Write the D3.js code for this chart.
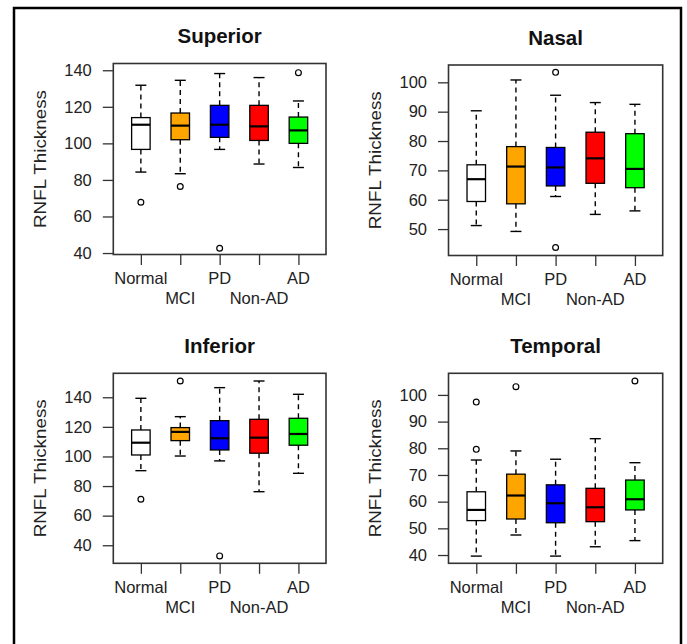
<!DOCTYPE html>
<html>
<head>
<meta charset="utf-8">
<script src="https://cdn.jsdelivr.net/npm/d3@7"></script>
<style>
html,body{margin:0;padding:0;background:#fff;}
svg{display:block;}
text{font-family:"Liberation Sans",Arial,Helvetica,sans-serif;}
</style>
</head>
<body>
<svg id="chart" width="687" height="644"></svg>
<script>
// ---- data ----
const groups = ["Normal", "MCI", "PD", "Non-AD", "AD"];
const groupColors = ["#ffffff", "#ffa500", "#0000ff", "#ff0000", "#00ff00"];

// [lower whisker, Q1, median, Q3, upper whisker]
const superiorStats = [
  [84.3, 96.7, 110.2, 114.1, 131.8],
  [83.4, 102.0, 109.7, 116.6, 134.5],
  [96.7, 103.3, 110.2, 120.8, 138.2],
  [88.7, 101.6, 109.3, 120.8, 136.0],
  [86.8, 100.0, 107.1, 114.4, 123.2]
];
const superiorOutliers = [[67.8], [76.4], [42.6], [], [138.7]];
const superiorTicks = [40, 60, 80, 100, 120, 140];

const nasalStats = [
  [51.2, 59.4, 67.0, 71.9, 90.3],
  [49.2, 58.6, 71.3, 78.1, 100.8],
  [61.1, 64.7, 71.0, 77.8, 95.6],
  [55.0, 65.6, 74.1, 83.0, 93.1],
  [56.2, 64.1, 70.5, 82.5, 92.5]
];
const nasalOutliers = [[], [], [103.4, 43.7], [], []];
const nasalTicks = [50, 60, 70, 80, 90, 100];

const inferiorStats = [
  [90.4, 101.0, 109.3, 117.9, 139.3],
  [100.3, 110.7, 116.6, 119.5, 126.9],
  [97.0, 104.4, 112.3, 124.2, 146.5],
  [76.2, 102.2, 112.7, 125.1, 151.0],
  [88.6, 107.6, 115.2, 125.8, 142.0]
];
const inferiorOutliers = [[71.1], [151.0], [32.8], [], []];
const inferiorTicks = [40, 60, 80, 100, 120, 140];

const temporalStats = [
  [39.6, 52.9, 56.9, 63.7, 75.6],
  [47.5, 53.5, 62.3, 70.3, 79.0],
  [39.6, 52.1, 59.4, 66.3, 75.9],
  [43.1, 52.5, 57.9, 65.0, 83.6],
  [45.4, 56.9, 60.9, 68.1, 74.6]
];
const temporalOutliers = [[97.3, 79.6], [103.1], [], [], [105.2]];
const temporalTicks = [40, 50, 60, 70, 80, 90, 100];

const yLabel = "RNFL Thickness";

// ---- layout ----
const panels = [
  {title: "Superior", stats: superiorStats, outliers: superiorOutliers, ticks: superiorTicks,
   domain: [39.2, 143.7], x0: 113.3, x1: 326, y0: 63.5, y1: 254.5},
  {title: "Nasal", stats: nasalStats, outliers: nasalOutliers, ticks: nasalTicks,
   domain: [41.0, 105.9], x0: 448.5, x1: 662.7, y0: 65, y1: 255.5},
  {title: "Inferior", stats: inferiorStats, outliers: inferiorOutliers, ticks: inferiorTicks,
   domain: [27.8, 156.2], x0: 113.3, x1: 326, y0: 373.3, y1: 563.3},
  {title: "Temporal", stats: temporalStats, outliers: temporalOutliers, ticks: temporalTicks,
   domain: [36.9, 108.1], x0: 448.5, x1: 662.7, y0: 373.3, y1: 563.3}
];

const svg = d3.select("#chart");

// outer frame (open at bottom)
svg.append("path")
  .attr("d", "M14,644 L14,8 L681,8 L681,644")
  .attr("fill", "none").attr("stroke", "#000").attr("stroke-width", 2.5);

const textColor = "#222";
const boxW = 18.5, capW = 11;

panels.forEach(p => {
  const g = svg.append("g");
  const x = d3.scaleLinear().domain([0.3, 5.7]).range([p.x0, p.x1]);
  const y = d3.scaleLinear().domain(p.domain).range([p.y1, p.y0]);

  // y axis
  const yAxis = d3.axisLeft(y).tickValues(p.ticks).tickSize(10.5).tickPadding(11).tickFormat(d3.format("d"));
  const ya = g.append("g").attr("transform", `translate(${p.x0},0)`).call(yAxis);
  ya.select(".domain").remove();
  ya.selectAll("line").attr("stroke", "#333").attr("stroke-width", 1.3);
  ya.selectAll("text").attr("fill", textColor).attr("font-size", 16.5)
    .style("font-family", '"Liberation Sans",Arial,sans-serif');

  // x axis ticks
  const xAxis = d3.axisBottom(x).tickValues([1, 2, 3, 4, 5]).tickSize(10.5).tickFormat("");
  const xa = g.append("g").attr("transform", `translate(0,${p.y1})`).call(xAxis);
  xa.select(".domain").remove();
  xa.selectAll("line").attr("stroke", "#333").attr("stroke-width", 1.3);

  // x labels alternate rows
  groups.forEach((name, i) => {
    g.append("text")
      .attr("x", x(i + 1))
      .attr("y", p.y1 + (i % 2 === 0 ? 29.5 : 49.5))
      .attr("text-anchor", "middle")
      .attr("font-size", 16.5)
      .attr("fill", textColor)
      .text(name);
  });

  // plot frame
  g.append("rect")
    .attr("x", p.x0).attr("y", p.y0)
    .attr("width", p.x1 - p.x0).attr("height", p.y1 - p.y0)
    .attr("fill", "none").attr("stroke", "#333").attr("stroke-width", 1.6);

  // title
  g.append("text")
    .attr("x", (p.x0 + p.x1) / 2)
    .attr("y", p.y0 - 20.5)
    .attr("text-anchor", "middle")
    .attr("font-size", 20.5)
    .attr("font-weight", "bold")
    .attr("fill", "#111")
    .text(p.title);

  // y label
  const cy = (p.y0 + p.y1) / 2;
  g.append("text")
    .attr("transform", `translate(${p.x0 - 67.5},${cy}) rotate(-90)`)
    .attr("text-anchor", "middle")
    .attr("font-size", 16.5)
    .attr("fill", textColor)
    .attr("textLength", 138)
    .attr("lengthAdjust", "spacingAndGlyphs")
    .text(yLabel);

  // boxes
  p.stats.forEach((s, i) => {
    const cx = x(i + 1);
    const [lo, q1, med, q3, hi] = s;
    const bg = g.append("g");
    // whiskers dashed
    bg.append("line").attr("x1", cx).attr("x2", cx).attr("y1", y(q3)).attr("y2", y(hi))
      .attr("stroke", "#000").attr("stroke-width", 1.4).attr("stroke-dasharray", "5,4");
    bg.append("line").attr("x1", cx).attr("x2", cx).attr("y1", y(q1)).attr("y2", y(lo))
      .attr("stroke", "#000").attr("stroke-width", 1.4).attr("stroke-dasharray", "5,4");
    // caps
    [lo, hi].forEach(v => {
      bg.append("line").attr("x1", cx - capW / 2).attr("x2", cx + capW / 2)
        .attr("y1", y(v)).attr("y2", y(v))
        .attr("stroke", "#000").attr("stroke-width", 1.4);
    });
    // box
    bg.append("rect")
      .attr("x", cx - boxW / 2).attr("y", y(q3))
      .attr("width", boxW).attr("height", y(q1) - y(q3))
      .attr("fill", groupColors[i]).attr("stroke", "#000").attr("stroke-width", 1.3);
    // median
    bg.append("line").attr("x1", cx - boxW / 2).attr("x2", cx + boxW / 2)
      .attr("y1", y(med)).attr("y2", y(med))
      .attr("stroke", "#000").attr("stroke-width", 2.2);
    // outliers
    p.outliers[i].forEach(v => {
      bg.append("circle").attr("cx", cx).attr("cy", y(v)).attr("r", 2.9)
        .attr("fill", "none").attr("stroke", "#000").attr("stroke-width", 1.2);
    });
  });
});
</script>
</body>
</html>
